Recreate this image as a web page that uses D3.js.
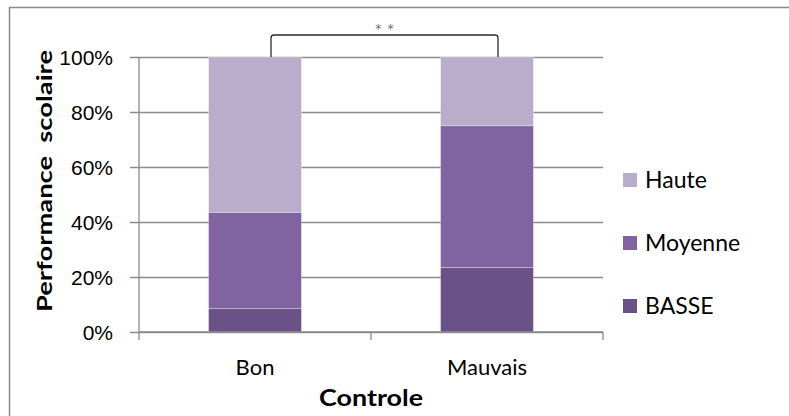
<!DOCTYPE html>
<html>
<head>
<meta charset="utf-8">
<script src="https://cdn.jsdelivr.net/npm/d3@7"></script>
<style>
  html, body { margin: 0; padding: 0; background: #fff; }
  svg { display: block; font-family: Lato, "Open Sans", sans-serif; }
</style>
</head>
<body>
<svg id="chart" width="789" height="416"></svg>
<script>
// Share of pupils by school performance level, per control group
const categories = ["Bon", "Mauvais"];
const basse   = [8.5, 23.5];
const moyenne = [35, 51.5];
const haute   = [56.5, 25];
const yTicks  = [0, 20, 40, 60, 80, 100];
const seriesNames = ["BASSE", "Moyenne", "Haute"];
const seriesColors = ["#6a5188", "#8064a2", "#b8aecb"];

const svg = d3.select("#chart");

// frame around the whole chart
svg.append("rect")
  .attr("x", 9.5).attr("y", 7.5)
  .attr("width", 820).attr("height", 440)
  .attr("fill", "none").attr("stroke", "#8a8a8a").attr("stroke-width", 1.5);

const plot = { left: 139, right: 603, top: 57, bottom: 332 };

const x = d3.scaleBand().domain(categories).range([plot.left, plot.right]).padding(0);
const y = d3.scaleLinear().domain([0, 100]).range([plot.bottom, plot.top]);
const barW = x.bandwidth() * 0.4;

// gridlines with tick marks on the left
const yAxis = d3.axisLeft(y).tickValues(yTicks).tickFormat(d => d + "%")
  .tickSize(-(plot.right - plot.left));
const gy = svg.append("g").attr("transform", `translate(${plot.left},0)`).call(yAxis);
gy.select(".domain").remove();
gy.selectAll(".tick line")
  .attr("x1", -9)
  .attr("stroke", "#8a8a8a").attr("stroke-width", 1.3);
gy.selectAll(".tick text")
  .attr("font-size", 21).attr("fill", "#000").attr("x", -26)
  .attr("dy", "0.36em");

// stacked bars
const rows = categories.map((c, i) => ({ cat: c, BASSE: basse[i], Moyenne: moyenne[i], Haute: haute[i] }));
const stack = d3.stack().keys(seriesNames)(rows);
const color = d3.scaleOrdinal().domain(seriesNames).range(seriesColors);

svg.append("g").selectAll("g").data(stack).join("g")
  .attr("fill", d => color(d.key))
  .selectAll("rect").data(d => d).join("rect")
  .attr("x", d => x(d.data.cat) + (x.bandwidth() - barW) / 2)
  .attr("width", barW)
  .attr("y", d => y(d[1]))
  .attr("height", d => y(d[0]) - y(d[1]))
  .attr("stroke", "rgba(255,255,255,0.35)").attr("stroke-width", 0.8);

// y axis line
svg.append("line")
  .attr("x1", plot.left).attr("x2", plot.left)
  .attr("y1", plot.top).attr("y2", plot.bottom)
  .attr("stroke", "#8a8a8a").attr("stroke-width", 1.3);

// x axis with tick marks between categories
const gx = svg.append("g").attr("transform", `translate(0,${plot.bottom})`);
gx.append("line")
  .attr("x1", plot.left).attr("x2", plot.right)
  .attr("stroke", "#8a8a8a").attr("stroke-width", 1.3);
const edges = [plot.left, ...categories.map(c => x(c) + x.bandwidth())];
gx.selectAll(".tk").data(edges).join("line").attr("class", "tk")
  .attr("x1", d => d).attr("x2", d => d).attr("y1", 0).attr("y2", 8)
  .attr("stroke", "#8a8a8a").attr("stroke-width", 1.3);
gx.selectAll(".lbl").data(categories).join("text").attr("class", "lbl")
  .attr("x", d => x(d) + x.bandwidth() / 2).attr("y", 43)
  .attr("text-anchor", "middle").attr("font-size", 22).attr("fill", "#000")
  .text(d => d);

// axis titles
svg.append("text")
  .attr("x", x("Bon") + x.bandwidth()).attr("y", 406)
  .attr("text-anchor", "middle").attr("font-size", 22).attr("font-weight", "bold")
  .attr("textLength", 104).attr("lengthAdjust", "spacingAndGlyphs")
  .text("Controle");
svg.append("text")
  .attr("transform", "translate(52,181) rotate(-90)")
  .attr("text-anchor", "middle").attr("font-size", 21).attr("font-weight", "bold")
  .attr("textLength", 262).attr("lengthAdjust", "spacingAndGlyphs")
  .style("white-space", "pre")
  .text("Performance  scolaire");

// significance bracket between the two groups
const bx1 = x("Bon") + x.bandwidth() / 2 + 16;
const bx2 = x("Mauvais") + x.bandwidth() / 2 + 11;
const by = 35, r = 3;
svg.append("path")
  .attr("d", `M${bx1},${plot.top} V${by + r} Q${bx1},${by} ${bx1 + r},${by} H${bx2 - r} Q${bx2},${by} ${bx2},${by + r} V${plot.top}`)
  .attr("fill", "none").attr("stroke", "#2b2b2b").attr("stroke-width", 1.3);
svg.append("text")
  .attr("x", (bx1 + bx2) / 2).attr("y", 37)
  .attr("text-anchor", "middle").attr("font-size", 18).attr("fill", "#777")
  .style("white-space", "pre")
  .text("* *");

// legend, top to bottom: Haute, Moyenne, BASSE
const legendOrder = ["Haute", "Moyenne", "BASSE"];
const lg = svg.append("g").selectAll("g").data(legendOrder).join("g")
  .attr("transform", (d, i) => `translate(623,${173 + i * 63})`);
lg.append("rect").attr("width", 14).attr("height", 14).attr("fill", d => color(d));
lg.append("text").attr("x", 22).attr("y", 7).attr("dy", "0.36em")
  .attr("font-size", 23).attr("fill", "#000").text(d => d);
</script>
</body>
</html>
